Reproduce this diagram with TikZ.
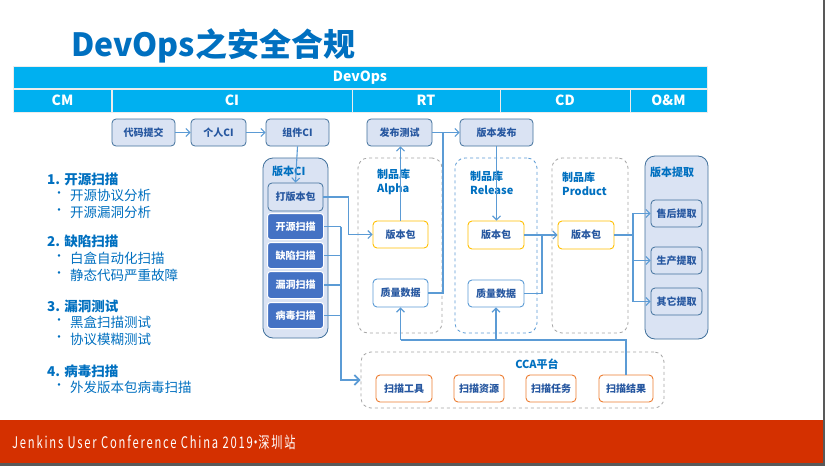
\documentclass[tikz,border=0pt]{standalone}
\usepackage{fontspec}
\setmainfont{Noto Sans CJK SC}
\newfontfamily\footfont[LetterSpace=16]{Noto Sans CJK SC}
\usetikzlibrary{arrows.meta,calc}
\definecolor{hdr}{HTML}{00B0F0}
\definecolor{ttl}{HTML}{0070C0}
\definecolor{bfill}{HTML}{DAE3F3}
\definecolor{bdraw}{HTML}{41719C}
\definecolor{btext}{HTML}{2657A0}
\definecolor{sfill}{HTML}{4472C4}
\definecolor{conn}{HTML}{5B9BD5}
\definecolor{pkg}{HTML}{FFC000}
\definecolor{cca}{HTML}{ED7D31}
\definecolor{dgray}{HTML}{A6A6A6}
\definecolor{footred}{RGB}{212,48,0}
\definecolor{edge}{HTML}{595959}
\tikzset{
  lbox/.style={rounded corners=4pt, fill=bfill, draw=bdraw, line width=0.8pt, text=btext, font=\bfseries\fontsize{10}{12}\selectfont, inner sep=0pt},
  sbox/.style={rounded corners=3pt, fill=sfill, draw=white, line width=1pt, text=white, font=\bfseries\fontsize{10}{12}\selectfont, inner sep=0pt},
  pbox/.style={rounded corners=4pt, fill=white, draw=pkg, line width=0.9pt, text=btext, font=\bfseries\fontsize{10}{12}\selectfont, inner sep=0pt},
  qbox/.style={rounded corners=4pt, fill=white, draw=conn, line width=0.9pt, text=btext, font=\bfseries\fontsize{10}{12}\selectfont, inner sep=0pt},
  cbox/.style={rounded corners=4pt, fill=white, draw=cca, line width=0.9pt, text=btext, font=\bfseries\fontsize{10}{12}\selectfont, inner sep=0pt},
  ctn/.style={rounded corners=10pt, fill=bfill, draw=bdraw, line width=0.8pt, inner sep=0pt},
  dctn/.style={rounded corners=10pt, draw=dgray, dashed, line width=0.8pt, inner sep=0pt},
  bctn/.style={rounded corners=10pt, draw=conn, dashed, line width=0.8pt, inner sep=0pt},
  clabel/.style={anchor=north west, align=left, text=ttl, font=\bfseries\fontsize{11}{14}\selectfont, inner sep=0pt},
  hcell/.style={fill=hdr, draw=white!85!gray, line width=0.6pt, text=white, font=\bfseries\fontsize{14}{16}\selectfont, inner sep=0pt},
  cn/.style={draw=conn, line width=1.1pt, -{Straight Barb[length=4pt,width=8pt]}},
  cl/.style={draw=conn, line width=1.1pt},
  lhead/.style={anchor=west, text=ttl, font=\bfseries\fontsize{13.5}{15}\selectfont, inner sep=0pt},
  litem/.style={anchor=west, text=ttl, font=\fontsize{13.5}{15}\selectfont, inner sep=0pt},
  lbul/.style={anchor=center, text=ttl, font=\fontsize{12}{12}\selectfont, inner sep=0pt},
}
\begin{document}
\begin{tikzpicture}[x=1pt,y=-1pt]
\useasboundingbox (0,0) rectangle (825,466);
\fill[white] (0,0) rectangle (825,466);
% footer
\fill[footred] (0,420) rectangle (823,463);
\fill[edge] (0,463) rectangle (825,466);
\fill[edge] (823,0) rectangle (825,466);
\node[anchor=west, text=white, inner sep=0pt] (foot) at (12,442) {\scalebox{0.7}[1]{\footfont\fontsize{16}{18}\selectfont Jenkins User Conference China 2019\hspace{-4pt}·\hspace{-4pt}深圳站}};
% title
\node[anchor=west, text=ttl, font=\bfseries\fontsize{32}{36}\selectfont, inner sep=0pt] (title) at (71,46) {DevOps之安全合规};
% header
\node[hcell, minimum width=694, minimum height=22] (hdev) at (360,77.5) {DevOps};
\node[hcell, minimum width=98, minimum height=23] (hcm) at (62.5,100.5) {CM};
\node[hcell, minimum width=240, minimum height=23] (hci) at (232,100.5) {CI};
\node[hcell, minimum width=148, minimum height=23] (hrt) at (426,100.5) {RT};
\node[hcell, minimum width=130, minimum height=23] (hcd) at (565,100.5) {CD};
\node[hcell, minimum width=77, minimum height=23] (hom) at (668.5,100.5) {O\&M};
% top boxes
\node[lbox, minimum width=63, minimum height=27] (dmtj) at (143.5,132.5) {代码提交};
\node[lbox, minimum width=55, minimum height=27] (grci) at (218.5,132.5) {个人CI};
\node[lbox, minimum width=63, minimum height=27] (zjci) at (297.5,132.5) {组件CI};
\node[lbox, minimum width=65, minimum height=27] (fbcs) at (399.5,132.5) {发布测试};
\node[lbox, minimum width=73, minimum height=27] (bbfb) at (496.5,132.5) {版本发布};
% version CI
\node[ctn, minimum width=65, minimum height=180] (vci) at (295.5,248) {};
\node[clabel] (vcil) at (272,166) {版本CI};
\node[lbox, minimum width=55, minimum height=28] (dbb) at (295.5,197) {打版本包};
\node[sbox, minimum width=56, minimum height=26] (s1) at (295.5,226.5) {开源扫描};
\node[sbox, minimum width=56, minimum height=26] (s2) at (295.5,255.5) {缺陷扫描};
\node[sbox, minimum width=56, minimum height=27] (s3) at (295.5,285) {漏洞扫描};
\node[sbox, minimum width=56, minimum height=26] (s4) at (295.5,315.5) {病毒扫描};
% Alpha
\node[dctn, minimum width=84, minimum height=175] (alpha) at (400,245.5) {};
\node[clabel] (alphal) at (377,169) {制品库\\Alpha};
\node[pbox, minimum width=55, minimum height=27] (abb) at (400.5,234.5) {版本包};
\node[qbox, minimum width=55, minimum height=28] (aqd) at (400.5,293) {质量数据};
% Release
\node[bctn, minimum width=82, minimum height=175] (rel) at (496,245.5) {};
\node[clabel] (rell) at (470,171) {制品库\\Release};
\node[pbox, minimum width=56, minimum height=28] (rbb) at (496,235) {版本包};
\node[qbox, minimum width=56, minimum height=27] (rqd) at (496,293.5) {质量数据};
% Product
\node[dctn, minimum width=76, minimum height=175] (prod) at (590,245.5) {};
\node[clabel] (prodl) at (562,172) {制品库\\Product};
\node[pbox, minimum width=56, minimum height=28] (pbb) at (586,235) {版本包};
% version fetch
\node[ctn, minimum width=63, minimum height=183] (om) at (676.5,247.5) {};
\node[clabel] (oml) at (650,167) {版本提取};
\node[lbox, minimum width=51, minimum height=27] (sh) at (676.5,213.5) {售后提取};
\node[lbox, minimum width=51, minimum height=27] (scq) at (676.5,260.5) {生产提取};
\node[lbox, minimum width=51, minimum height=27] (qt) at (676.5,301.5) {其它提取};
% CCA
\node[dctn, minimum width=303, minimum height=56] (ccap) at (512.5,380) {};
\node[anchor=center, text=ttl, font=\bfseries\fontsize{11}{13}\selectfont, inner sep=0pt] (ccal) at (537,364) {CCA平台};
\node[cbox, minimum width=56, minimum height=27] (t1) at (404,388.5) {扫描工具};
\node[cbox, minimum width=50, minimum height=27] (t2) at (479,388.5) {扫描资源};
\node[cbox, minimum width=50, minimum height=27] (t3) at (551,388.5) {扫描任务};
\node[cbox, minimum width=54, minimum height=27] (t4) at (626,388.5) {扫描结果};
% connectors
\draw[cn] (dmtj) -- (grci);
\draw[cn] (grci) -- (zjci);
\draw[cn] (zjci.south) -- (dbb.north);
\draw[cn] (fbcs) -- (bbfb);
\draw[cn] (dbb.east) -- ++(25,0) |- (abb.west);
\draw[cn] (abb.north) -- (abb.north |- fbcs.south);
\coordinate (j1) at (443,132.5);
\draw[cl] (aqd.east) -| (j1);
\draw[cn] (bbfb.south) -- (bbfb.south |- rbb.north);
\draw[cn] (rbb.east) -- (pbb.west);
\coordinate (j2) at (542,235);
\draw[cl] (rqd.east) -| (j2);
\coordinate (j3) at (633,235);
\draw[cl] (pbb.east) -- (j3);
\draw[cn] (j3) |- (sh.west);
\draw[cn] (j3) |- (scq.west);
\draw[cn] (j3) |- (qt.west);
\coordinate (j4) at (341,226.5);
\coordinate (j5) at (341,380);
\draw[cl] (s1.east) -- (j4);
\draw[cl] (s2.east) -- (s2.east -| j4);
\draw[cl] (s3.east) -- (s3.east -| j4);
\draw[cl] (s4.east) -- (s4.east -| j4);
\draw[draw=conn, line width=1.8pt, -{Straight Barb[length=5pt,width=10pt]}] (j4) -- (j5) -- (ccap.west);
\coordinate (j6) at (626,340);
\coordinate (j7) at (400.5,340);
\coordinate (j8) at (496,340);
\draw[cl] (t4.north) -- (j6) -- (j7);
\draw[cn] (j7) -- (aqd.south);
\draw[cn] (j8) -- (rqd.south);
% left list
\node[lhead] (h1) at (47,179) {1. 开源扫描};
\node[lbul] (b11) at (59,195) {•};
\node[litem] (i11) at (70,195) {开源协议分析};
\node[lbul] (b12) at (59,212) {•};
\node[litem] (i12) at (70,212) {开源漏洞分析};
\node[lhead] (h2) at (47,241) {2. 缺陷扫描};
\node[lbul] (b21) at (59,258) {•};
\node[litem] (i21) at (70,258) {白盒自动化扫描};
\node[lbul] (b22) at (59,275) {•};
\node[litem] (i22) at (70,275) {静态代码严重故障};
\node[lhead] (h3) at (47,306) {3. 漏洞测试};
\node[lbul] (b31) at (59,322) {•};
\node[litem] (i31) at (70,322) {黑盒扫描测试};
\node[lbul] (b32) at (59,339) {•};
\node[litem] (i32) at (70,339) {协议模糊测试};
\node[lhead] (h4) at (47,371) {4. 病毒扫描};
\node[lbul] (b41) at (59,387) {•};
\node[litem] (i41) at (70,387) {外发版本包病毒扫描};
\end{tikzpicture}
\end{document}
